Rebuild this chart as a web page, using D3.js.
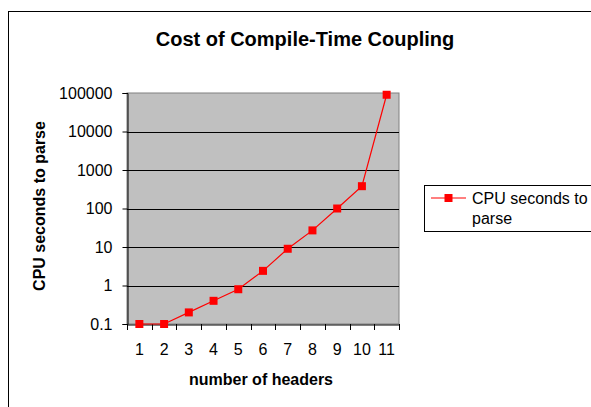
<!DOCTYPE html>
<html><head><meta charset="utf-8">
<script src="https://cdn.jsdelivr.net/npm/d3@7"></script>
<style>body{margin:0;background:#fff;} svg{display:block;font-family:"Liberation Sans",Arial,sans-serif;}</style>
</head><body><svg id="c" width="591" height="407"></svg>
<script>
const categories = ["1","2","3","4","5","6","7","8","9","10","11"];
const cpuSeconds = [0.1, 0.1, 0.2, 0.4, 0.8, 2.4, 9, 27, 100, 380, 90000];
const yTicks = [0.1, 1, 10, 100, 1000, 10000, 100000];
const yTickLabels = ["0.1","1","10","100","1000","10000","100000"];
const seriesName = "CPU seconds to parse";
const title = "Cost of Compile-Time Coupling";
const xTitle = "number of headers";
const yTitle = "CPU seconds to parse";

const svg = d3.select("#c");
// outer chart frame
svg.append("rect").attr("x",8.5).attr("y",11.5).attr("width",700).attr("height",500)
  .attr("fill","#fff").attr("stroke","#000").attr("stroke-width",1);

const L=127, R=399, T=93, B=324;
const x = d3.scaleBand().domain(categories).range([L,R]);
const y = d3.scaleLog().domain([0.1,100000]).range([B,T]);

svg.append("rect").attr("x",L).attr("y",T).attr("width",R-L).attr("height",B-T)
  .attr("fill","#c0c0c0").attr("stroke","#808080").attr("stroke-width",1);

// gridlines
svg.append("g").selectAll("line").data(yTicks.slice(1,-1)).join("line")
  .attr("x1",L).attr("x2",R).attr("y1",d=>Math.round(y(d))+0.5).attr("y2",d=>Math.round(y(d))+0.5)
  .attr("stroke","#000").attr("stroke-width",1.2);

// y axis
const yAxis = d3.axisLeft(y).tickValues(yTicks).tickFormat((d,i)=>yTickLabels[i]).tickSize(5).tickPadding(10);
const gy = svg.append("g").attr("transform",`translate(${L+0.5},0)`).call(yAxis);
gy.select(".domain").attr("stroke","#000");
gy.selectAll(".tick line").attr("stroke","#000");
gy.selectAll("text").attr("font-size",16).attr("fill","#000").attr("font-family","Liberation Sans, Arial, sans-serif");

// x axis
const xAxis = d3.axisBottom(x).tickSize(0).tickPadding(19);
const gx = svg.append("g").attr("transform",`translate(0,${B+0.5})`).call(xAxis);
gx.select(".domain").attr("stroke","#000");
gx.selectAll("text").attr("font-size",16).attr("fill","#000").attr("font-family","Liberation Sans, Arial, sans-serif");
// tick marks at band boundaries
const bounds = categories.map(c=>x(c)).concat([x(categories[categories.length-1])+x.bandwidth()]);
svg.append("g").selectAll("line").data(bounds).join("line")
  .attr("x1",d=>Math.round(d)+0.5).attr("x2",d=>Math.round(d)+0.5).attr("y1",B).attr("y2",B+6)
  .attr("stroke","#000");

// line + markers
const cx = d=>x(d)+x.bandwidth()/2;
const pts = categories.map((c,i)=>[cx(c), y(cpuSeconds[i])]);
svg.append("path").attr("d",d3.line()(pts)).attr("fill","none").attr("stroke","#ff0000").attr("stroke-width",1.2);
svg.append("g").selectAll("rect").data(pts).join("rect")
  .attr("x",d=>d[0]-4).attr("y",d=>d[1]-4).attr("width",8).attr("height",8).attr("fill","#ff0000");

// titles
svg.append("text").attr("x",305).attr("y",46).attr("text-anchor","middle")
  .attr("font-size",20).attr("font-weight","bold").text(title);
svg.append("text").attr("x",261).attr("y",385).attr("text-anchor","middle")
  .attr("font-size",16).attr("font-weight","bold").text(xTitle);
svg.append("text").attr("transform","translate(45,206) rotate(-90)").attr("text-anchor","middle")
  .attr("font-size",16).attr("font-weight","bold").text(yTitle);

// legend
svg.append("rect").attr("x",424.5).attr("y",185.5).attr("width",200).attr("height",46)
  .attr("fill","#fff").attr("stroke","#000");
svg.append("line").attr("x1",431).attr("x2",466).attr("y1",198).attr("y2",198).attr("stroke","#ff0000").attr("stroke-width",1.2);
svg.append("rect").attr("x",444.5).attr("y",194).attr("width",8).attr("height",8).attr("fill","#ff0000");
const lt = svg.append("text").attr("font-size",16).attr("fill","#000");
lt.append("tspan").attr("x",472).attr("y",204).text(seriesName.split(" ").slice(0,3).join(" "));
lt.append("tspan").attr("x",472).attr("y",224).text(seriesName.split(" ").slice(3).join(" "));
</script></body></html>
